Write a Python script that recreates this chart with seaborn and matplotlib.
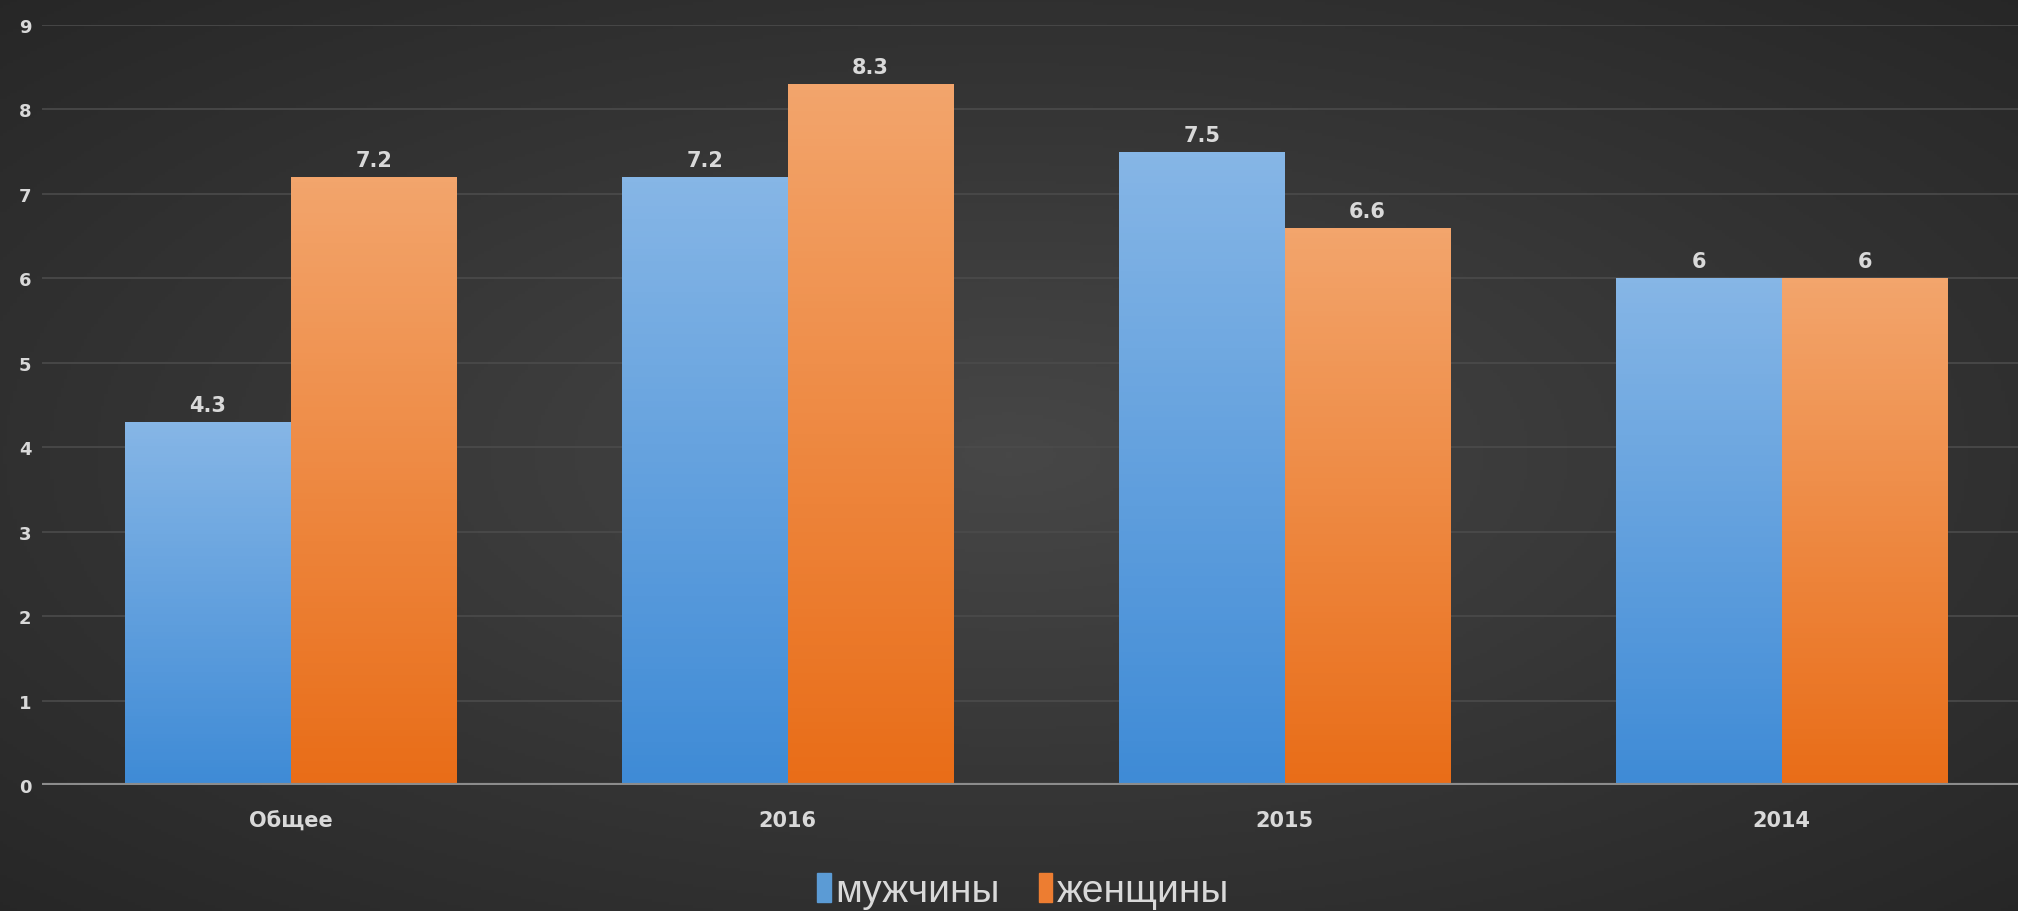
import numpy as np
import pandas as pd
import seaborn as sns
import matplotlib.pyplot as plt
from matplotlib.colors import LinearSegmentedColormap
from matplotlib.patches import Patch

categories = ["Общее", "2016", "2015", "2014"]
series_names = ["мужчины", "женщины"]
men = [4.3, 7.2, 7.5, 6]
women = [7.2, 8.3, 6.6, 6]

df = pd.DataFrame({
    "Категория": categories * 2,
    "Пол": [series_names[0]] * 4 + [series_names[1]] * 4,
    "Значение": men + women,
})

sns.set_style("dark")
plt.rcParams["font.family"] = ["DejaVu Sans"]

text_col = "#d9d9d9"
base_cols = ["#5b9bd5", "#ed7d31"]
grad_cols = [("#3f8bd6", "#86b6e6"), ("#e96d18", "#f3a56c")]

fig = plt.figure(figsize=(20.18, 9.12), dpi=100)

# dark radial background
bg = fig.add_axes([0, 0, 1, 1], zorder=-2)
yy, xx = np.mgrid[-1:1:300j, -1:1:600j]
r = np.sqrt(xx ** 2 + yy ** 2)
bg_cmap = LinearSegmentedColormap.from_list("bg", ["#474747", "#363636", "#262626"])
bg.imshow(r, cmap=bg_cmap, aspect="auto", extent=[0, 1, 0, 1], vmin=0, vmax=1.45)
bg.axis("off")

ax = fig.add_axes([0.021, 0.138, 0.985, 0.8335])
ax.set_facecolor("none")

sns.barplot(data=df, x="Категория", y="Значение", hue="Пол",
            palette=base_cols, width=0.667, legend=False, ax=ax,
            saturation=1, edgecolor="none")

# vertical gradient on each bar
for cont, (bot, top) in zip(ax.containers, grad_cols):
    cmap = LinearSegmentedColormap.from_list("g", [bot, top])
    for bar in cont:
        x0, w, h = bar.get_x(), bar.get_width(), bar.get_height()
        grad = np.linspace(1, 0, 100).reshape(-1, 1)
        im = ax.imshow(grad, cmap=cmap, aspect="auto",
                       extent=[x0, x0 + w, 0, h], zorder=bar.get_zorder() + 0.1)
        im.set_clip_path(bar)
    ax.bar_label(cont, fmt="%g", padding=5, fontsize=15, fontweight="bold",
                 color=text_col)

ax.set_xlim(-0.5, 3.5)
ax.set_ylim(0, 9)
ax.set_yticks(range(0, 10))
ax.grid(axis="y", color="#4b4b4b", linewidth=1.2)
ax.grid(axis="x", visible=False)
ax.set_axisbelow(True)
ax.axhline(0, color="#8c8c8c", linewidth=3, zorder=5)
for s in ax.spines.values():
    s.set_visible(False)
ax.set_xlabel("")
ax.set_ylabel("")
ax.tick_params(axis="x", length=0, pad=18, labelsize=15, labelcolor=text_col)
ax.tick_params(axis="y", length=0, pad=8, labelsize=13, labelcolor=text_col)
for lbl in ax.get_xticklabels() + ax.get_yticklabels():
    lbl.set_fontweight("bold")

handles = [Patch(color=c) for c in base_cols]
leg = fig.legend(handles, series_names, loc="center",
                 bbox_to_anchor=(0.507, 0.022), ncol=2, frameon=False,
                 handlelength=0.35, handleheight=0.75, handletextpad=0.12,
                 columnspacing=1.0, borderpad=0,
                 prop={"family": ["Liberation Sans", "DejaVu Sans"], "size": 28})
for t in leg.get_texts():
    t.set_color(text_col)

fig.savefig("out.png", dpi=100)
